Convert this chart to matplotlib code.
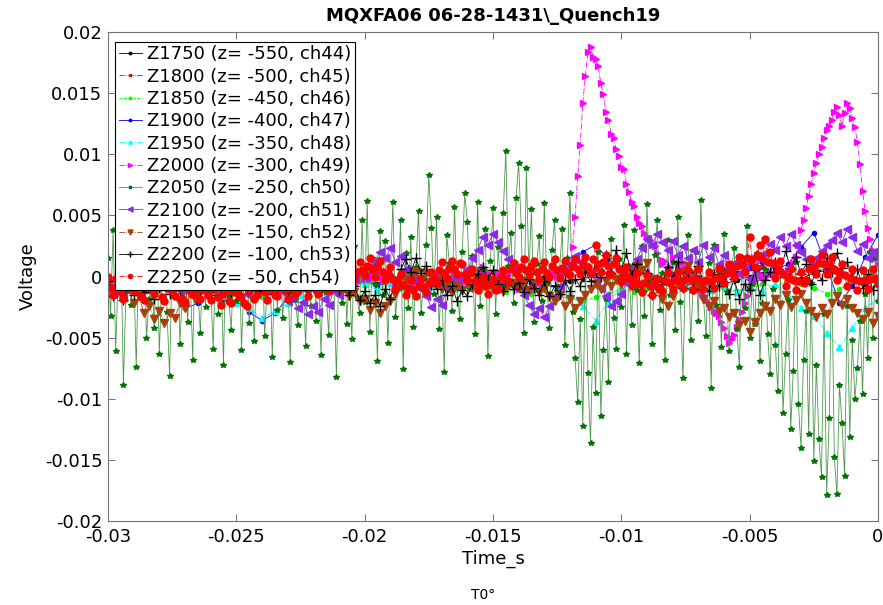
import numpy as np
import matplotlib
matplotlib.use("Agg")
import matplotlib.pyplot as plt

plt.rcParams["font.family"] = ["DejaVu Sans"]
plt.rcParams["axes.unicode_minus"] = False

# ---- sample times (s) ----
t_fine = np.linspace(-0.03, 0.0, 301)    # 0.1 ms
t_mid = np.linspace(-0.03, 0.0, 151)     # 0.2 ms
t_coarse = np.linspace(-0.03, 0.0, 61)   # 0.5 ms

# ---- channel voltages (mV) ----
z1750_mv = [-0.2, -0.7, -0.3, -0.9, -0.4, -0.8, -0.5, -1.0, -0.6, -0.9, -0.4, -0.8, -0.5, -0.9, -0.6,
            -1.0, -0.5, -0.8, -0.3, -0.7, -0.2, -0.6, -0.1, -0.5, -0.3, -0.7, -0.4, -0.8, -0.2, -0.6,
            -0.3, -0.7, -0.5, -0.9, -0.6, -0.8, -0.4, -0.2, 0.1, 0.3, 0.0, -0.3, -0.5, -0.2, -0.4,
            -0.7, -0.5, -0.8, -0.6, -0.3, 0.0, 0.2, 0.4, 0.1, -0.2, 0.3, 0.5, 0.1, -0.3, -0.6, -0.4]

z1800_mv = [-0.5, -0.9, -0.4, -1.0, -0.6, -1.1, -0.7, -1.2, -0.8, -1.3, -0.9, -1.1, -0.7, -1.0, -0.6,
            -0.8, -0.5, -0.7, -0.2, 0.2, 0.4, 0.2, -0.3, -0.5, -0.2, 0.3, 0.1, -0.3, -0.4, 0.2,
            0.4, 0.3, 0.5, 0.4, 0.6, 0.5, 0.7, 0.8, 0.6, 0.2, -0.2, -0.5, -0.3, -0.1, -0.2,
            -0.3, -0.1, 0.2, 0.6, 1.0, 1.2, 0.8, 0.3, -0.1, 0.4, 0.7, 0.5, 0.0, -0.3, -0.2, -0.3]

z1850_mv = [-0.6, -1.0, -0.8, -1.2, -0.7, -1.1, -0.9, -1.3, -0.8, -1.0, -1.2, -1.5, -1.7, -1.3, -0.9,
            -1.1, -0.7, -1.0, -0.6, -0.9, -0.5, -0.8, -0.4, -0.9, -0.6, -1.0, -0.7, -1.1, -0.8, -1.2,
            -0.9, -1.3, -1.0, -1.4, -1.1, -1.6, -1.8, -2.0, -1.7, -1.4, -1.0, -1.3, -0.9, -1.2, -0.8,
            -1.0, -0.7, -1.1, -0.9, -1.2, -1.0, -0.6, -0.8, -0.3, -0.6, -0.9, -1.4, -1.0, -0.5, 0.0, -0.3]

z1900_mv = [-0.6, -1.0, -0.5, -1.2, -0.8, -1.5, -2.6, -2.2, -1.2, -1.8, -2.0, -2.9, -3.6, -3.0, -1.8,
            -1.0, -0.6, -1.1, -0.4, -0.9, -0.3, -0.8, -0.2, -0.7, -0.4, -1.0, -0.5, -0.9, -0.3, -0.7,
            -0.2, -0.6, -0.1, -0.5, 0.0, 0.4, 1.0, 2.0, 2.6, 1.4, 0.6, 1.0, 0.4, -0.2, 0.2,
            -0.3, 0.0, -0.5, -0.2, 0.3, 0.8, 1.2, 0.6, 1.0, 2.4, 3.6, 0.8, -2.2, -0.8, 1.6, 3.4]

z1950_mv = [-0.8, -1.2, -0.6, -1.0, -0.9, -1.4, -1.8, -1.3, -1.0, -1.6, -2.2, -2.6, -3.4, -2.8, -2.2,
            -1.5, -0.9, -1.3, -0.7, -1.0, -0.6, -1.1, -0.5, -0.9, -0.6, -1.2, -0.8, -1.0, -0.5, -0.9,
            -0.4, -0.8, -0.6, -1.0, -0.7, -0.9, -1.4, -2.4, -3.6, -2.0, -1.0, -0.8, -0.4, -0.9, -0.5,
            -0.8, -0.6, -1.1, -0.8, -1.3, -0.9, -1.2, -0.6, -1.5, -2.6, -3.2, -4.6, -5.8, -4.2, -2.6, -1.8]

z2000_mv = [-0.3, -0.7, -0.9, -0.2, 0.1, -0.4, -0.6, -1.0, -0.5, -0.2, -0.7, -0.1, 0.2, -0.3, -0.5, -0.8, -1.1, -0.6, -0.3, 0.0,
            -0.4, -0.8, 0.0, -0.3, -0.8, -0.5, -0.3, -1.0, -0.7, -0.5, 0.1, -0.2, -0.6, -0.9, -0.2, 0.0, -0.4, -0.9, -0.6, -0.3,
            -0.5, -0.1, 0.2, -0.3, -0.4, -0.8, -0.9, -0.4, -0.1, -0.5, -0.7, -0.2, 0.0, -0.4, -0.6, -0.9, -1.0, -0.6, -0.3, -0.1,
            0.1, -0.3, -0.5, -0.6, -0.2, -0.5, -0.8, -0.3, 0.0, -0.4, -0.6, -0.2, -0.3, -0.7, -1.0, -0.6, -0.4, -0.1, 0.0, -0.5,
            -0.6, -0.3, -0.2, -0.6, -0.9, -0.4, 0.1, -0.3, -0.5, -0.2, -0.1, -0.5, -0.8, -0.6, -0.3, -0.1, 0.2, -0.2, -0.4, -0.1,
            0.3, 0.0, -0.2, 0.2, 0.5, 0.1, 0.0, -0.3, -0.4, 0.0, 0.2, -0.2, -0.6, -0.3, -0.1, 0.2, 0.4, 0.0, -0.3, -0.5,
            -0.8, -0.4, -0.2, -0.7, -1.1, -0.8, -0.5, -0.1, 0.1, -0.2, -0.3, 0.1, 0.4, 0.0, -0.2, 0.1, 0.2, -0.2, -0.5, -0.2,
            0.0, 0.4, 0.6, 0.3, 0.2, 0.5, 0.8, 0.5, 0.3, 0.0, -0.2, 0.1, 0.4, 0.0, -0.4, -0.1, 0.1, -0.3, -0.6, -0.8,
            -1.0, -0.7, -0.5, -0.9, -1.3, -1.0, -0.8, -0.5, -0.4, -0.7, -0.9, -0.5, -0.2, 0.1, 0.3, 0.0, -0.1, 0.2, 0.4, 0.5,
            0.8, 2.4, 4.9, 8.2, 10.8, 14.2, 16.4, 18.4, 18.8, 18.0, 17.8, 17.2, 15.8, 14.9, 13.5, 12.8, 11.7, 11.3, 10.4, 9.9,
            9.0, 8.8, 7.6, 6.9, 6.1, 5.8, 4.9, 4.4, 4.1, 3.6, 3.3, 3.0, 2.6, 2.5, 1.9, 1.4, 1.0, 1.3, 0.6, 0.8,
            1.6, 1.2, 0.8, 1.1, 1.2, 0.7, 0.2, -0.1, -0.4, -0.7, -0.9, -1.2, -1.5, -1.9, -2.2, -2.5, -2.8, -3.0, -3.2, -3.7,
            -4.2, -4.9, -5.4, -5.1, -4.8, -4.1, -3.5, -2.9, -2.2, -1.6, -1.0, -0.6, -0.3, 0.0, 0.2, 0.0, -0.2, 0.1, 0.4, 0.2,
            0.0, 0.3, 0.5, 0.4, 0.2, 0.5, 0.8, 1.1, 1.6, 2.6, 3.8, 4.6, 5.6, 6.6, 7.6, 8.5, 9.3, 10.0, 10.6, 11.3,
            12.0, 12.3, 12.8, 13.5, 13.9, 13.2, 12.3, 13.4, 14.2, 13.8, 13.0, 12.2, 11.0, 9.2, 7.0, 5.4, 4.0, 3.1, 2.2, 1.5,
            1.0]

z2050_mv = [1.5, -3.2, 3.8, -6.1, 0.4, 2.9, -8.9, -1.2, 4.1, -2.3, 0.8, -7.4, 2.2, -0.6, 3.4, -5.0, -1.8, 1.1, -4.2, 2.7,
            -6.3, 0.2, 3.6, -2.9, -8.1, 1.7, -0.9, 4.4, -5.5, -1.4, 2.1, -3.7, 0.6, -6.8, 3.0, -1.1, -4.6, 1.9, -2.5, 5.2,
            -0.7, -5.9, 2.4, -3.1, 0.9, -7.2, 3.3, -1.6, -4.4, 1.3, -2.0, 4.7, -6.0, -0.3, 2.6, -3.8, 0.5, -5.3, 1.8, -1.0,
            3.9, -4.9, -0.8, 2.3, -6.6, 1.0, -2.7, 5.6, -3.4, -0.5, 1.6, -7.0, 2.8, -1.9, -4.0, 3.5, -0.2, -5.7, 1.2, -2.4,
            4.3, -3.6, 0.7, -6.4, 2.0, -1.3, -4.8, 3.1, -0.4, -8.2, 1.4, -2.2, 5.0, -3.9, 0.3, -5.1, 2.5, -1.7, -3.0, 4.6,
            -2.1, 6.2, -4.5, 1.5, -0.6, -6.9, 3.7, -1.5, 2.9, -5.4, 0.1, 6.1, -3.3, -0.9, 4.6, -7.6, 1.9, -2.6, 3.2, -4.1,
            0.8, 5.4, -3.0, -0.2, 2.6, 8.3, 4.0, -1.4, 4.9, -4.3, 0.4, -7.8, 3.4, 1.1, -2.8, 5.7, -0.7, -3.5, 2.0, 6.8,
            4.5, -1.0, 1.7, -4.7, 6.1, -2.4, 0.6, 3.9, -6.5, 1.3, 5.6, -3.1, 2.4, -0.8, 5.2, 10.3, 0.9, 3.6, -2.2, 6.4,
            9.3, 4.1, -4.6, 8.9, 0.2, 5.5, -3.7, 1.0, 3.3, -2.0, 6.0, -0.5, -4.2, 2.2, 4.6, -1.2, 0.7, 3.9, -5.6, 1.5,
            6.8, -2.9, -6.7, -10.3, -3.5, -12.2, 0.6, -7.9, -13.6, -4.1, -9.5, 2.0, -11.4, -6.0, -1.8, -8.6, 3.1, -3.4, -5.9, 1.4,
            -2.5, 4.2, -6.3, 0.9, -4.0, 3.8, -1.1, -7.1, 2.5, -3.2, 5.9, -0.4, -5.5, 1.8, 4.6, -2.7, 0.3, -6.8, 3.0, -1.5,
            1.2, -4.4, 4.9, -2.1, -8.3, 0.5, 3.4, -5.2, -0.9, 2.0, -3.6, 6.3, -1.7, -4.9, 1.1, -9.1, 2.6, -2.3, 0.4, -5.8,
            3.5, -1.3, -6.1, 0.8, 2.3, -4.3, -7.4, 1.6, -2.6, 4.1, -5.0, -0.6, -3.9, 1.9, -6.9, -2.2, 0.6, -4.7, -8.0, -1.0,
            -5.6, -9.4, 0.5, -11.2, -6.3, -1.9, -12.5, -7.7, 1.2, -10.4, -14.0, -6.8, -2.8, -12.9, -0.5, -15.1, -7.2, -13.3, -16.4, -3.1,
            -17.9, -11.6, 0.8, -14.8, -17.8, -8.9, -12.0, -16.3, -2.4, -13.1, -5.2, -10.0, -7.5, -3.6, -9.6, -1.4, -6.7, 2.0, -5.0, 1.5,
            -2.0]

z2100_mv = [-0.6, -1.4, -0.8, -1.7, -0.5, -1.2, -0.9, -0.3, -1.0, -0.4,
            -0.8, -0.2, -0.9, -0.4, -1.1, -0.5, -0.8, -0.1, -0.7, -0.3,
            -0.9, -0.4, -1.2, -0.6, -1.0, -0.3, -0.8, -1.4, -0.7, -1.1,
            -0.5, -1.0, -0.3, -0.9, -1.3, -2.0, -1.6, -2.6, -2.1, -3.1,
            -2.4, -2.9, -1.8, -2.3, -1.2, -1.5, -0.6, -0.9, -0.2, 0.3,
            0.0, 0.8, 1.3, 2.0, 1.5, 2.3, 1.2, 1.7, 0.6, 0.2,
            -0.4, -1.0, -1.6, -2.5, -1.8, -2.3, -1.0, -0.4, 0.0, -0.2,
            0.6, 1.5, 2.2, 3.2, 2.6, 3.5, 2.8, 2.1, 1.4, 0.5,
            -0.6, -1.5, -2.3, -3.1, -2.6, -3.3, -2.4, -1.6, -0.8, 0.3,
            1.0, 1.7, 1.2, 0.8, 0.2, -0.4, -0.9, -1.6, -2.4, -2.0,
            -1.4, -0.5, 0.6, 1.4, 2.3, 3.1, 2.6, 3.5, 2.8, 2.2,
            2.9, 1.8, 2.5, 1.5, 2.2, 1.2, 2.6, 1.6, 2.3, 1.0,
            1.8, 0.6, 1.1, 0.2, 0.8, -0.2, 0.6, 1.4, 1.9, 2.7,
            2.2, 3.2, 2.5, 3.5, 2.6, 2.0, 1.4, 0.9, 1.5, 2.1,
            2.6, 3.0, 3.6, 2.8, 3.9, 3.2, 2.1, 2.7, 1.5, 2.0,
            1.6]

z2150_mv = [-0.6, -1.3, -0.4, -1.6, -1.0, -2.2, -1.6, -3.0, -2.4, -3.5,
            -2.8, -3.8, -3.0, -3.4, -2.2, -2.6, -1.4, -1.8, -0.8, -1.2,
            -0.5, -1.1, -0.3, -0.9, -0.6, -1.3, -0.4, -1.0, -0.2, -0.8,
            -0.5, -1.2, -0.3, -0.9, -0.6, -1.4, -0.4, -1.1, -0.7, -1.3,
            -0.5, -1.0, -0.3, -0.8, -0.5, -1.2, -0.9, -1.6, -1.3, -2.0,
            -1.8, -2.7, -2.2, -3.0, -2.4, -2.0, -1.4, -0.8, -0.3, 0.1,
            0.4, -0.2, 0.3, -0.5, -0.3, -1.0, -0.6, -1.3, -0.8, -1.1,
            -0.5, -0.9, -0.2, -0.7, -0.4, -1.0, -0.6, -1.2, -0.8, -0.5,
            -0.9, -0.4, -1.1, -0.6, -1.3, -0.9, -1.6, -2.0, -1.5, -2.4,
            -1.8, -2.6, -2.0, -1.5, -1.0, -0.6, -1.0, -0.4, -0.8, -0.3,
            -0.6, -0.1, 0.3, 0.9, 0.5, 1.1, -0.2, -1.0, -1.8, -2.4,
            -1.6, -0.6, 0.4, 0.9, 0.2, -0.9, -1.8, -2.4, -2.0, -2.8,
            -2.6, -3.3, -3.0, -4.0, -3.6, -4.5, -3.7, -3.0, -2.4, -2.8,
            -1.8, -2.3, -1.5, -2.5, -1.9, -1.4, -2.2, -2.8, -3.3, -2.6,
            -3.1, -2.2, -1.6, -2.3, -1.8, -2.6, -3.0, -3.5, -2.9, -3.8,
            -3.2]

z2200_mv = [-0.4, -1.6, -0.2, -1.9, -0.8, -1.5, -0.1, -1.3, -0.6, -1.8,
            -0.9, -0.2, -1.4, -0.5, -1.1, 0.0, -1.0, -0.3, -1.2, -0.6,
            -1.5, -0.4, -1.0, -0.2, -1.3, -0.6, -0.9, 0.1, -0.7, -1.2,
            -0.5, -1.4, -0.2, -1.0, -0.6, -1.3, -0.1, -0.9, -0.4, -1.1,
            -0.2, -1.3, 0.3, -0.8, 0.0, -1.1, -0.4, -1.5, -0.8, -1.9,
            -1.2, -2.2, -1.5, -2.4, -1.0, -1.8, -0.4, 0.6, 1.4, 0.4,
            1.5, 0.3, 0.9, -0.5, -1.0, -0.3, -1.5, -0.8, -2.0, -1.1,
            -1.6, -0.6, 0.2, 0.8, -0.2, 0.5, -0.6, -1.2, -0.3, -1.0,
            -0.5, -1.3, -0.2, -0.9, -1.5, -0.4, -1.6, -0.8, -1.4, -0.3,
            -1.2, -0.2, -0.8, 0.4, -0.4, 1.2, 0.0, 1.8, 0.3, 2.2,
            0.5, 1.9, 0.1, 1.0, -1.2, 0.3, -1.5, -0.2, -0.6, 0.8,
            -0.3, 1.2, -0.9, 0.4, -1.0, 0.9, -0.5, -1.2, 0.2, -0.8,
            0.3, -1.4, -0.2, -1.8, -0.6, -1.1, 0.5, -1.5, -0.3, 0.4,
            1.2, 0.3, 2.1, 0.6, 1.6, 0.2, 1.0, -0.6, 0.5, -0.3,
            1.5, 0.4, 1.9, 0.7, 1.2, 0.0, 0.6, -0.9, 0.2, -1.1,
            -0.4]

z2250_mv = [0.0, -0.9, -1.5, -0.2, -0.4, -1.3, -1.8, -0.7, 0.1, -1.0, -1.2, -0.3, -0.6, -1.6, -1.9, -0.5, -0.2, -1.1, -1.4, -0.6,
            -0.7, -1.7, -2.0, -0.9, -0.3, -1.2, -1.6, -0.6, -0.9, -1.8, -2.1, -1.0, -0.5, -1.4, -1.3, -0.8, -1.8, -1.1, -0.4, -1.5,
            -1.9, -1.0, -0.8, -1.7, -2.3, -1.4, -1.1, -2.0, -2.2, -1.3, -0.6, -1.5, -1.7, -2.2, -2.4, -1.2, -0.9, -1.8, -1.5, -0.8,
            -0.4, -1.3, -1.9, -1.0, -0.8, -1.5, -1.6, -0.7, -0.2, -1.1, -1.8, -0.9, -0.5, -1.4, -1.2, -0.6, -0.1, -0.9, -1.6, -0.8,
            -0.3, -1.1, -1.4, -0.5, 0.1, -0.7, -1.2, -0.4, -0.6, 0.1, 0.3, -0.5, -0.9, 0.0, 0.6, 0.9, -0.2, 0.4, 1.2, 0.5,
            0.1, 0.9, 1.5, 0.6, 0.0, 0.8, 1.3, 0.4, -0.3, 0.3, 0.8, -0.2, -1.0, -0.4, 0.2, -0.7, -1.5, -0.9, -0.3, -1.1,
            -1.6, -0.8, -0.2, -0.9, -1.3, -0.5, 0.4, -0.1, -0.5, 0.5, 1.2, 0.3, -0.1, 0.7, 1.3, 0.6, 0.2, 1.1, 1.0, 0.2,
            -0.3, 0.3, 0.6, -0.4, -1.1, -0.5, 0.0, -0.8, -1.4, -0.6, -0.2, -1.1, -1.0, 0.0, 0.5, -0.2, -0.4, 0.6, 1.1, 0.3,
            0.0, 0.8, 1.4, 0.5, 0.1, 0.9, 1.3, 0.4, -0.2, 0.6, 1.2, 0.3, 0.0, 0.9, 1.4, 0.5, -0.1, 0.7, 1.3, 0.4,
            0.1, 0.9, 1.4, 0.6, 0.2, 1.1, 1.6, 0.8, 0.3, 1.4, 2.6, 1.0, 0.4, 1.2, 1.8, 0.9, 0.2, 1.0, 1.5, 0.6,
            -0.4, 0.3, 0.8, -0.1, -0.8, -0.2, 0.3, -0.6, -1.3, -0.5, 0.1, -0.8, -1.5, -0.7, -0.2, -0.9, -1.2, -0.4, 0.3, -0.5,
            -1.0, -0.3, 0.4, -0.4, -0.9, -0.2, 0.5, -0.3, -1.1, -0.2, 0.6, -0.4, -1.0, -0.3, 0.4, -0.4, -0.9, -0.1, 0.7, 0.0,
            -0.5, 0.3, 1.0, 0.4, 0.0, 0.9, 1.6, 1.0, 0.4, 1.5, 3.2, 1.4, 0.8, 1.8, 2.6, 1.5, 3.1, 1.2, 2.0, 1.1,
            -0.1, 0.6, 1.3, 0.2, -0.8, -0.1, 0.6, -0.3, -1.1, -0.4, 0.4, -0.5, -0.3, 0.6, 1.4, 0.7, 0.2, 1.1, 1.8, 1.0,
            0.2, 1.0, 1.6, 0.6, -0.3, 0.4, 1.0, 0.1, -0.8, -0.1, 0.6, -0.3, -1.1, -0.4, 0.5, -0.3, -1.0, -0.2, 0.6, -0.1,
            -0.6]

labels = ["Z1750 (z= -550, ch44)", "Z1800 (z= -500, ch45)", "Z1850 (z= -450, ch46)",
          "Z1900 (z= -400, ch47)", "Z1950 (z= -350, ch48)", "Z2000 (z= -300, ch49)",
          "Z2050 (z= -250, ch50)", "Z2100 (z= -200, ch51)", "Z2150 (z= -150, ch52)",
          "Z2200 (z= -100, ch53)", "Z2250 (z= -50, ch54)"]

series = [
    (t_coarse, z1750_mv, dict(color="black", ls="-", marker=".", ms=6)),
    (t_coarse, z1800_mv, dict(color="red", ls="-.", marker="s", ms=2.5)),
    (t_coarse, z1850_mv, dict(color=(0.0, 1.0, 0.0), ls="--", marker=".", ms=6)),
    (t_coarse, z1900_mv, dict(color=(0.0, 0.0, 0.9), ls="-", marker=".", ms=6)),
    (t_coarse, z1950_mv, dict(color="cyan", ls="-.", marker="^", ms=4)),
    (t_fine, z2000_mv, dict(color="magenta", ls="-.", marker=">", ms=5)),
    (t_fine, z2050_mv, dict(color=(0.3, 0.6, 0.3), ls="-", marker="*", ms=4,
                            mfc=(0.0, 0.45, 0.0), mec=(0.0, 0.45, 0.0))),
    (t_mid, z2100_mv, dict(color=(0.55, 0.17, 0.89), ls="-", marker="<", ms=6)),
    (t_mid, z2150_mv, dict(color=(0.65, 0.25, 0.05), ls="-.", marker="v", ms=6)),
    (t_mid, z2200_mv, dict(color="black", ls="-", marker="+", ms=7)),
    (t_fine, z2250_mv, dict(color="red", ls="-.", marker="o", ms=5)),
]

fig = plt.figure(figsize=(8.83, 6.05), dpi=100)
ax = fig.add_axes([0.1223, 0.1388, 0.8720, 0.8082])

for (t, mv, style), lab in zip(series, labels):
    v = np.asarray(mv) * 1e-3
    ax.plot(t, v, lw=0.6, label=lab, **style)

ax.set_xlim(-0.03, 0.0)
ax.set_ylim(-0.02, 0.02)
ax.set_xticks([-0.03, -0.025, -0.02, -0.015, -0.01, -0.005, 0])
ax.set_xticklabels(["-0.03", "-0.025", "-0.02", "-0.015", "-0.01", "-0.005", "0"])
ax.set_yticks([-0.02, -0.015, -0.01, -0.005, 0, 0.005, 0.01, 0.015, 0.02])
ax.set_yticklabels(["-0.02", "-0.015", "-0.01", "-0.005", "0", "0.005", "0.01", "0.015", "0.02"])
ax.tick_params(direction="in", top=True, right=True, length=5, width=0.6,
               color="0.35", labelsize=13)
ax.tick_params(axis="x", pad=5)
ax.tick_params(axis="y", pad=4)
for sp in ax.spines.values():
    sp.set_color("0.45")
    sp.set_linewidth(0.8)

ax.set_xlabel("Time_s", fontsize=13, labelpad=3)
ax.set_ylabel("Voltage", fontsize=13, labelpad=6)
ax.set_title("MQXFA06 06-28-1431\\_Quench19", fontsize=13, fontweight="bold", pad=8)
fig.text(0.547, 0.0165, "T0°", ha="center", va="center", fontsize=10)

leg = ax.legend(loc="upper left", bbox_to_anchor=(0.009, 0.98), borderaxespad=0,
                fontsize=13, numpoints=1, markerscale=0.6, handlelength=1.3,
                handletextpad=0.3, labelspacing=0.24, borderpad=0.2, fancybox=False,
                framealpha=1, edgecolor="black")
leg.get_frame().set_linewidth(0.8)

fig.savefig("out.png", dpi=100)
